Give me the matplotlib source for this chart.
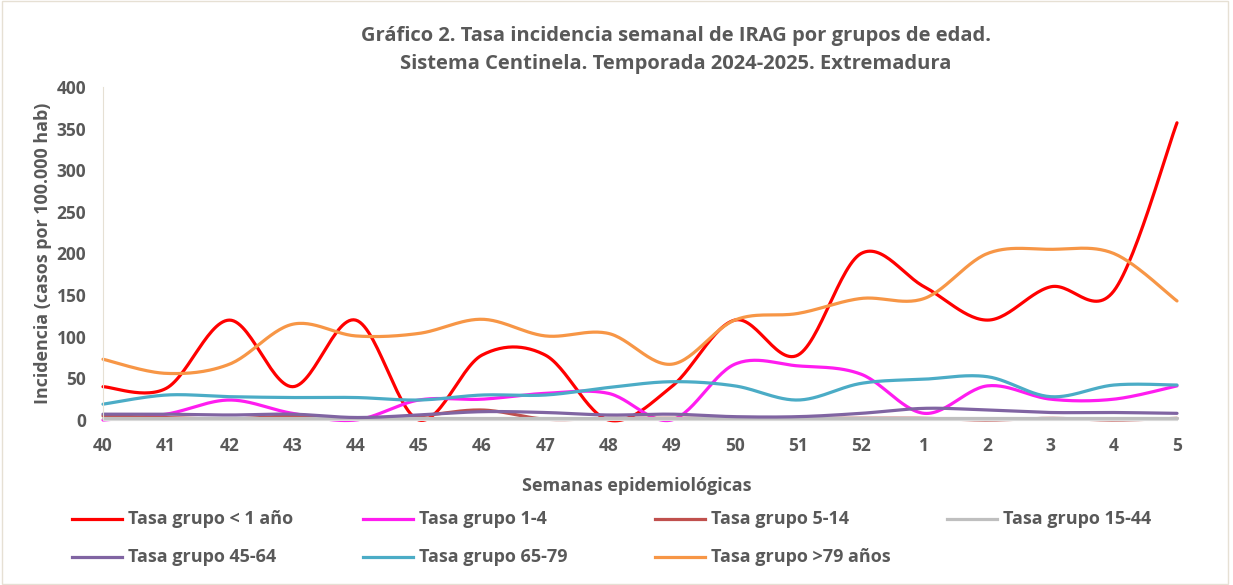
import numpy as np
import matplotlib.pyplot as plt
from matplotlib.lines import Line2D
from matplotlib.patches import Rectangle

plt.rcParams['font.family'] = ['Open Sans', 'DejaVu Sans']
plt.rcParams['font.weight'] = 'bold'

# Semanas epidemiologicas (temporada 2024-2025)
weeks = ['40', '41', '42', '43', '44', '45', '46', '47', '48', '49', '50',
         '51', '52', '1', '2', '3', '4', '5']

# Tasas por 100.000 hab
tasa_menor1 = [40, 38, 120, 40, 120, 0, 78, 78, 0, 40, 120, 78, 200, 160, 120, 160, 155, 357]
tasa_1_4 = [0, 7, 24, 8, 0, 24, 25, 32, 32, 0, 67, 65, 55, 8, 41, 25, 25, 41]
tasa_5_14 = [5, 3, 1, 5, 2, 5, 12, 1, 2, 2, 2, 2, 2, 2, 0, 2, 0, 2]
tasa_15_44 = [2, 2, 2, 2, 2, 2, 2, 2, 2, 2, 2, 2, 2, 2, 2, 2, 2, 2]
tasa_45_64 = [7, 7, 6, 7, 3, 6, 10, 9, 6, 7, 4, 4, 8, 14, 12, 9, 9, 8]
tasa_65_79 = [19, 30, 28, 27, 27, 24, 30, 30, 39, 46, 41, 24, 44, 49, 52, 28, 42, 42]
tasa_mayor79 = [73, 56, 67, 115, 101, 104, 121, 101, 104, 67, 120, 128, 146, 146, 200, 205, 200, 143]

labels = ['Tasa grupo < 1 año', 'Tasa grupo 1-4', 'Tasa grupo 5-14', 'Tasa grupo 15-44',
          'Tasa grupo 45-64', 'Tasa grupo 65-79', 'Tasa grupo >79 años']
colors = ['#FF0000', '#FF1CF0', '#C0504D', '#BFBFBF', '#8064A2', '#4BACC6', '#F79646']
series = [tasa_menor1, tasa_1_4, tasa_5_14, tasa_15_44, tasa_45_64, tasa_65_79, tasa_mayor79]


def smooth(x, y, n=30):
    # curva suavizada tipo Excel (Bezier / Catmull-Rom)
    x = np.asarray(x, float)
    y = np.asarray(y, float)
    xs, ys = [], []
    t = np.linspace(0, 1, n)
    for i in range(len(x) - 1):
        i0, i3 = max(i - 1, 0), min(i + 2, len(x) - 1)
        p0x, p1x, p2x, p3x = x[i0], x[i], x[i + 1], x[i3]
        p0y, p1y, p2y, p3y = y[i0], y[i], y[i + 1], y[i3]
        b1x, b1y = p1x + (p2x - p0x) / 6, p1y + (p2y - p0y) / 6
        b2x, b2y = p2x - (p3x - p1x) / 6, p2y - (p3y - p1y) / 6
        xs.append((1 - t) ** 3 * p1x + 3 * (1 - t) ** 2 * t * b1x + 3 * (1 - t) * t ** 2 * b2x + t ** 3 * p2x)
        ys.append((1 - t) ** 3 * p1y + 3 * (1 - t) ** 2 * t * b1y + 3 * (1 - t) * t ** 2 * b2y + t ** 3 * p2y)
    return np.concatenate(xs), np.concatenate(ys)


fig = plt.figure(figsize=(12.33, 5.85), dpi=100)
ax = fig.add_axes([103 / 1233, 165 / 585, 1074 / 1233, 333 / 585])

x = np.arange(len(weeks))
for vals, col in zip(series, colors):
    sx, sy = smooth(x, vals)
    ax.plot(sx, sy, color=col, lw=2.3, clip_on=False, solid_capstyle='round')

ax.set_xlim(0, len(weeks) - 1)
ax.set_ylim(0, 400)
ax.set_yticks(range(0, 401, 50))
ax.set_xticks(x)
ax.set_xticklabels(weeks)
ax.tick_params(length=0, labelsize=12.5, labelcolor='#595959', pad=12)
ax.tick_params(axis='y', pad=12)
for s in ['top', 'right']:
    ax.spines[s].set_visible(False)
ax.spines['left'].set_color('#E6E0D4')
ax.spines['bottom'].set_color('#D9D9D9')

ax.set_ylabel('Incidencia (casos por 100.000 hab)', fontsize=12.9, color='#595959',
              fontweight='bold', labelpad=3)
fig.text(637 / 1233, 1 - 486 / 585, 'Semanas epidemiológicas', ha='center', va='center',
         fontsize=13, color='#595959', fontweight='bold')
fig.text(676 / 1233, 1 - 36 / 585, 'Gráfico 2. Tasa incidencia semanal de IRAG por grupos de edad.',
         ha='center', va='center', fontsize=14.5, color='#595959', fontweight='bold')
fig.text(676 / 1233, 1 - 64 / 585, 'Sistema Centinela. Temporada 2024-2025. Extremadura',
         ha='center', va='center', fontsize=14.5, color='#595959', fontweight='bold')

# leyenda manual en dos filas
col_x = [72, 363, 655, 947]
row_y = [519, 557]
for i, (lab, col) in enumerate(zip(labels, colors)):
    cx = col_x[i % 4]
    cy = row_y[i // 4]
    fig.add_artist(Line2D([cx / 1233, (cx + 50) / 1233], [1 - cy / 585, 1 - cy / 585],
                          color=col, lw=2.3, transform=fig.transFigure))
    fig.text((cx + 56) / 1233, 1 - cy / 585, lab, ha='left', va='center',
             fontsize=13, color='#595959', fontweight='bold')

fig.add_artist(Rectangle((0.002, 0.002), 0.994, 0.996, transform=fig.transFigure,
                         fill=False, edgecolor='#E6E0D4', lw=1))

plt.savefig('out.png', dpi=100)
